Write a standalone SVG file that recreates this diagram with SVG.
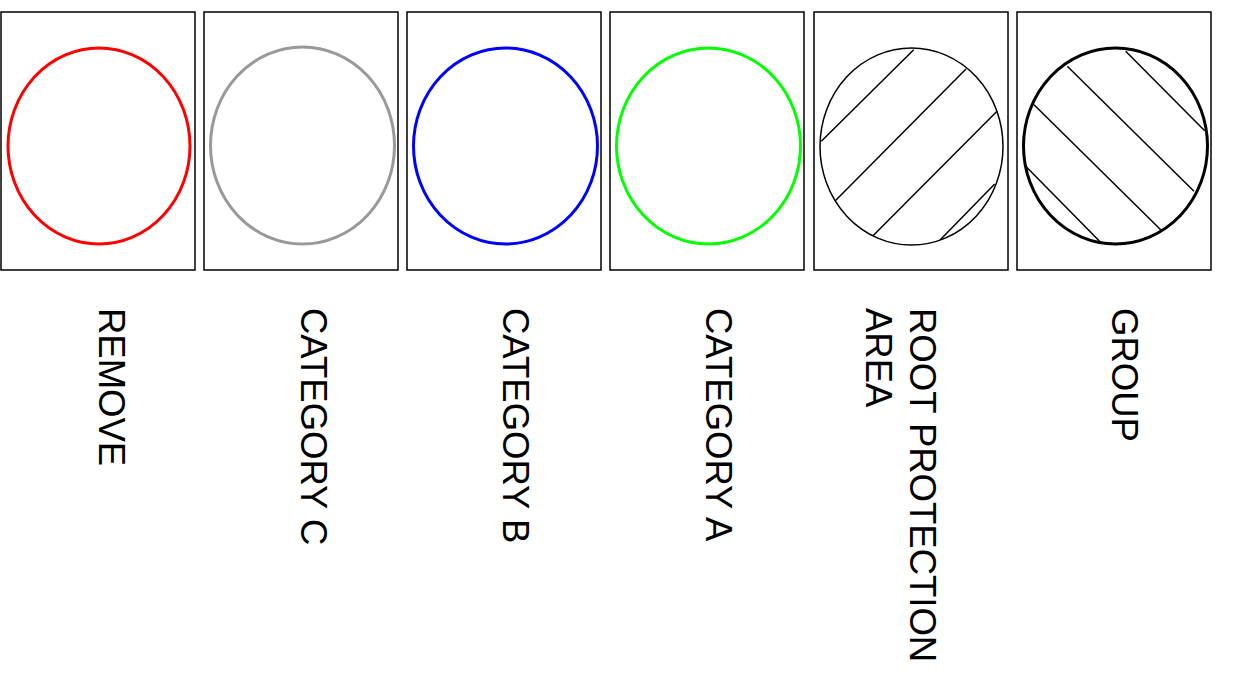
<svg xmlns="http://www.w3.org/2000/svg" width="1239" height="676" viewBox="0 0 1239 676">
<style>
.box{fill:#fff;stroke:#000;stroke-width:1.5}
.sym{fill:none;stroke-width:3}
.hatch{stroke:#000;stroke-width:1.5;fill:none}
.lbl{font-family:"Liberation Sans",Arial,sans-serif;font-size:36.5px;fill:#000}
</style>
<rect width="1239" height="676" fill="#fff"/>
<g id="remove">
<rect class="box" x="1" y="12" width="194" height="258"/>
<ellipse class="sym" cx="99" cy="146" rx="91" ry="98" stroke="#ff0000"/>
<text class="lbl" transform="translate(99,308) rotate(90)">REMOVE</text>
</g>
<g id="category-c">
<rect class="box" x="204" y="12" width="194" height="258"/>
<ellipse class="sym" cx="302.5" cy="145.5" rx="92" ry="98.5" stroke="#999999"/>
<text class="lbl" transform="translate(301,308) rotate(90)">CATEGORY C</text>
</g>
<g id="category-b">
<rect class="box" x="407" y="12" width="194" height="258"/>
<ellipse class="sym" cx="505.5" cy="146" rx="92" ry="98" stroke="#0000ff"/>
<text class="lbl" transform="translate(503,308) rotate(90)">CATEGORY B</text>
</g>
<g id="category-a">
<rect class="box" x="610" y="12" width="194" height="258"/>
<ellipse class="sym" cx="708.5" cy="146" rx="92" ry="98" stroke="#00ff00"/>
<text class="lbl" transform="translate(706,308) rotate(90)">CATEGORY A</text>
</g>
<g id="root-protection-area">
<rect class="box" x="814" y="12" width="194" height="258"/>
<ellipse class="hatch" cx="911.5" cy="146.5" rx="91.5" ry="98.5"/>
<line class="hatch" x1="913.7" y1="49.7" x2="821.3" y2="141.3"/>
<line class="hatch" x1="966" y1="69" x2="835.3" y2="200.7"/>
<line class="hatch" x1="997" y1="111.3" x2="873" y2="235.7"/>
<line class="hatch" x1="994.7" y1="184" x2="940.3" y2="239.7"/>
<text class="lbl" transform="translate(910,308) rotate(90)">ROOT PROTECTION</text>
<text class="lbl" transform="translate(866,308) rotate(90)">AREA</text>
</g>
<g id="group">
<rect class="box" x="1017" y="12" width="194" height="258"/>
<ellipse class="sym" cx="1115.5" cy="146" rx="92" ry="98" stroke="#000"/>
<line class="hatch" x1="1125.7" y1="51.3" x2="1204.7" y2="130.7"/>
<line class="hatch" x1="1067.3" y1="66.3" x2="1194" y2="191.3"/>
<line class="hatch" x1="1034" y1="104.7" x2="1160.7" y2="229.7"/>
<line class="hatch" x1="1026.7" y1="167.3" x2="1101.3" y2="243"/>
<text class="lbl" transform="translate(1112,308) rotate(90)">GROUP</text>
</g>
<g id="connectors"/>
</svg>
